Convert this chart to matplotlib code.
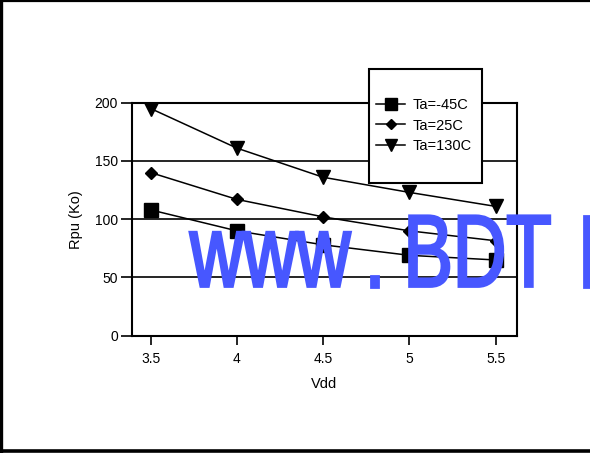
import matplotlib
matplotlib.use("Agg")
import matplotlib.pyplot as plt
from matplotlib import patheffects
from matplotlib.patches import Rectangle
from matplotlib.transforms import Affine2D

vdd = [3.5, 4.0, 4.5, 5.0, 5.5]
ta_m45 = [108, 90, 78, 69, 65]
ta_25 = [140, 117, 102, 90, 81.5]
ta_130 = [195, 161, 136, 123, 111]
labels = ["Ta=-45C", "Ta=25C", "Ta=130C"]
yticks = [0, 50, 100, 150, 200]
xticklabels = ["3.5", "4", "4.5", "5", "5.5"]


class Squeeze(patheffects.AbstractPathEffect):
    # squeeze text horizontally around its own anchor and fatten strokes
    def __init__(self, sx, lw):
        super().__init__()
        self.sx = sx
        self.lw = lw

    def draw_path(self, renderer, gc, tpath, affine, rgbFace=None):
        x0 = affine.get_matrix()[0, 2]
        aff = affine + Affine2D().translate(-x0, 0).scale(self.sx, 1).translate(x0, 0)
        gc0 = renderer.new_gc()
        gc0.copy_properties(gc)
        gc0.set_linewidth(self.lw)
        gc0.set_foreground(rgbFace)
        gc0.set_joinstyle("miter")
        renderer.draw_path(gc0, tpath, aff, rgbFace)
        gc0.restore()


plt.rcParams["font.family"] = ["Liberation Sans", "DejaVu Sans"]

W, H = 590, 453
fig = plt.figure(figsize=(W / 100, H / 100), dpi=100)
ax = fig.add_axes([131.7 / W, 1 - 335.7 / H, (516.7 - 131.7) / W, (335.7 - 102.7) / H])

l1, = ax.plot(vdd, ta_m45, color="black", lw=1.1, marker="s", ms=9.5)
l2, = ax.plot(vdd, ta_25, color="black", lw=1.1, marker="D", ms=6.5)
l3, = ax.plot(vdd, ta_130, color="black", lw=1.1, marker="v", ms=9.5)

ax.set_xlim(3.39, 5.622)
ax.set_ylim(0, 200)
ax.set_xticks(vdd)
ax.set_xticklabels(xticklabels)
ax.set_yticks(yticks)
for y in yticks[1:]:
    ax.axhline(y, color="black", lw=1.2, zorder=0)
for s in ax.spines.values():
    s.set_linewidth(1.5)
ax.tick_params(axis="y", length=8, width=1.2, labelsize=10, pad=2)
ax.tick_params(axis="x", length=6.5, width=1.2, labelsize=10, pad=5)
ax.set_xlabel("Vdd", fontsize=10.5, labelpad=8)
ax.set_ylabel("Rpu (Ko)", fontsize=10.5, labelpad=8)

# legend box (white, covers grid and top spine)
box = Rectangle((369 / W, 1 - 183 / H), 113 / W, 114 / H, transform=fig.transFigure,
                facecolor="white", edgecolor="black", lw=1.5, zorder=4, clip_on=False)
ax.add_patch(box)
leg = ax.legend([l1, l2, l3], labels, loc="upper left",
                bbox_to_anchor=(376 / W, 1 - 98 / H), bbox_transform=fig.transFigure,
                frameon=False, fontsize=10.5, handlelength=2.0, handletextpad=0.48,
                borderpad=0, borderaxespad=0, labelspacing=0.45, markerscale=0.85)
leg.set_zorder(5)

# watermark
wm = dict(fontsize=74, color="#4757ff", va="baseline", ha="left", zorder=10,
          path_effects=[Squeeze(0.72, 2.0)])
base = 1 - 286.5 / H
fig.text(190 / W, base, "www", **wm)
fig.text(364 / W, base, ".", **wm)
fig.text(403.5 / W, base, "BDT", **wm)
fig.text(577 / W, base, "I", **wm)

# border (left, top, bottom)
fig.add_artist(plt.Line2D([1.2 / W, 1.2 / W], [0, 1], color="black", lw=2.4))
fig.add_artist(plt.Line2D([0, 1], [1 - 0.8 / H, 1 - 0.8 / H], color="black", lw=1.6))
fig.add_artist(plt.Line2D([0, 1], [1.8 / H, 1.8 / H], color="black", lw=2.6))

fig.savefig("out.png", dpi=100)
